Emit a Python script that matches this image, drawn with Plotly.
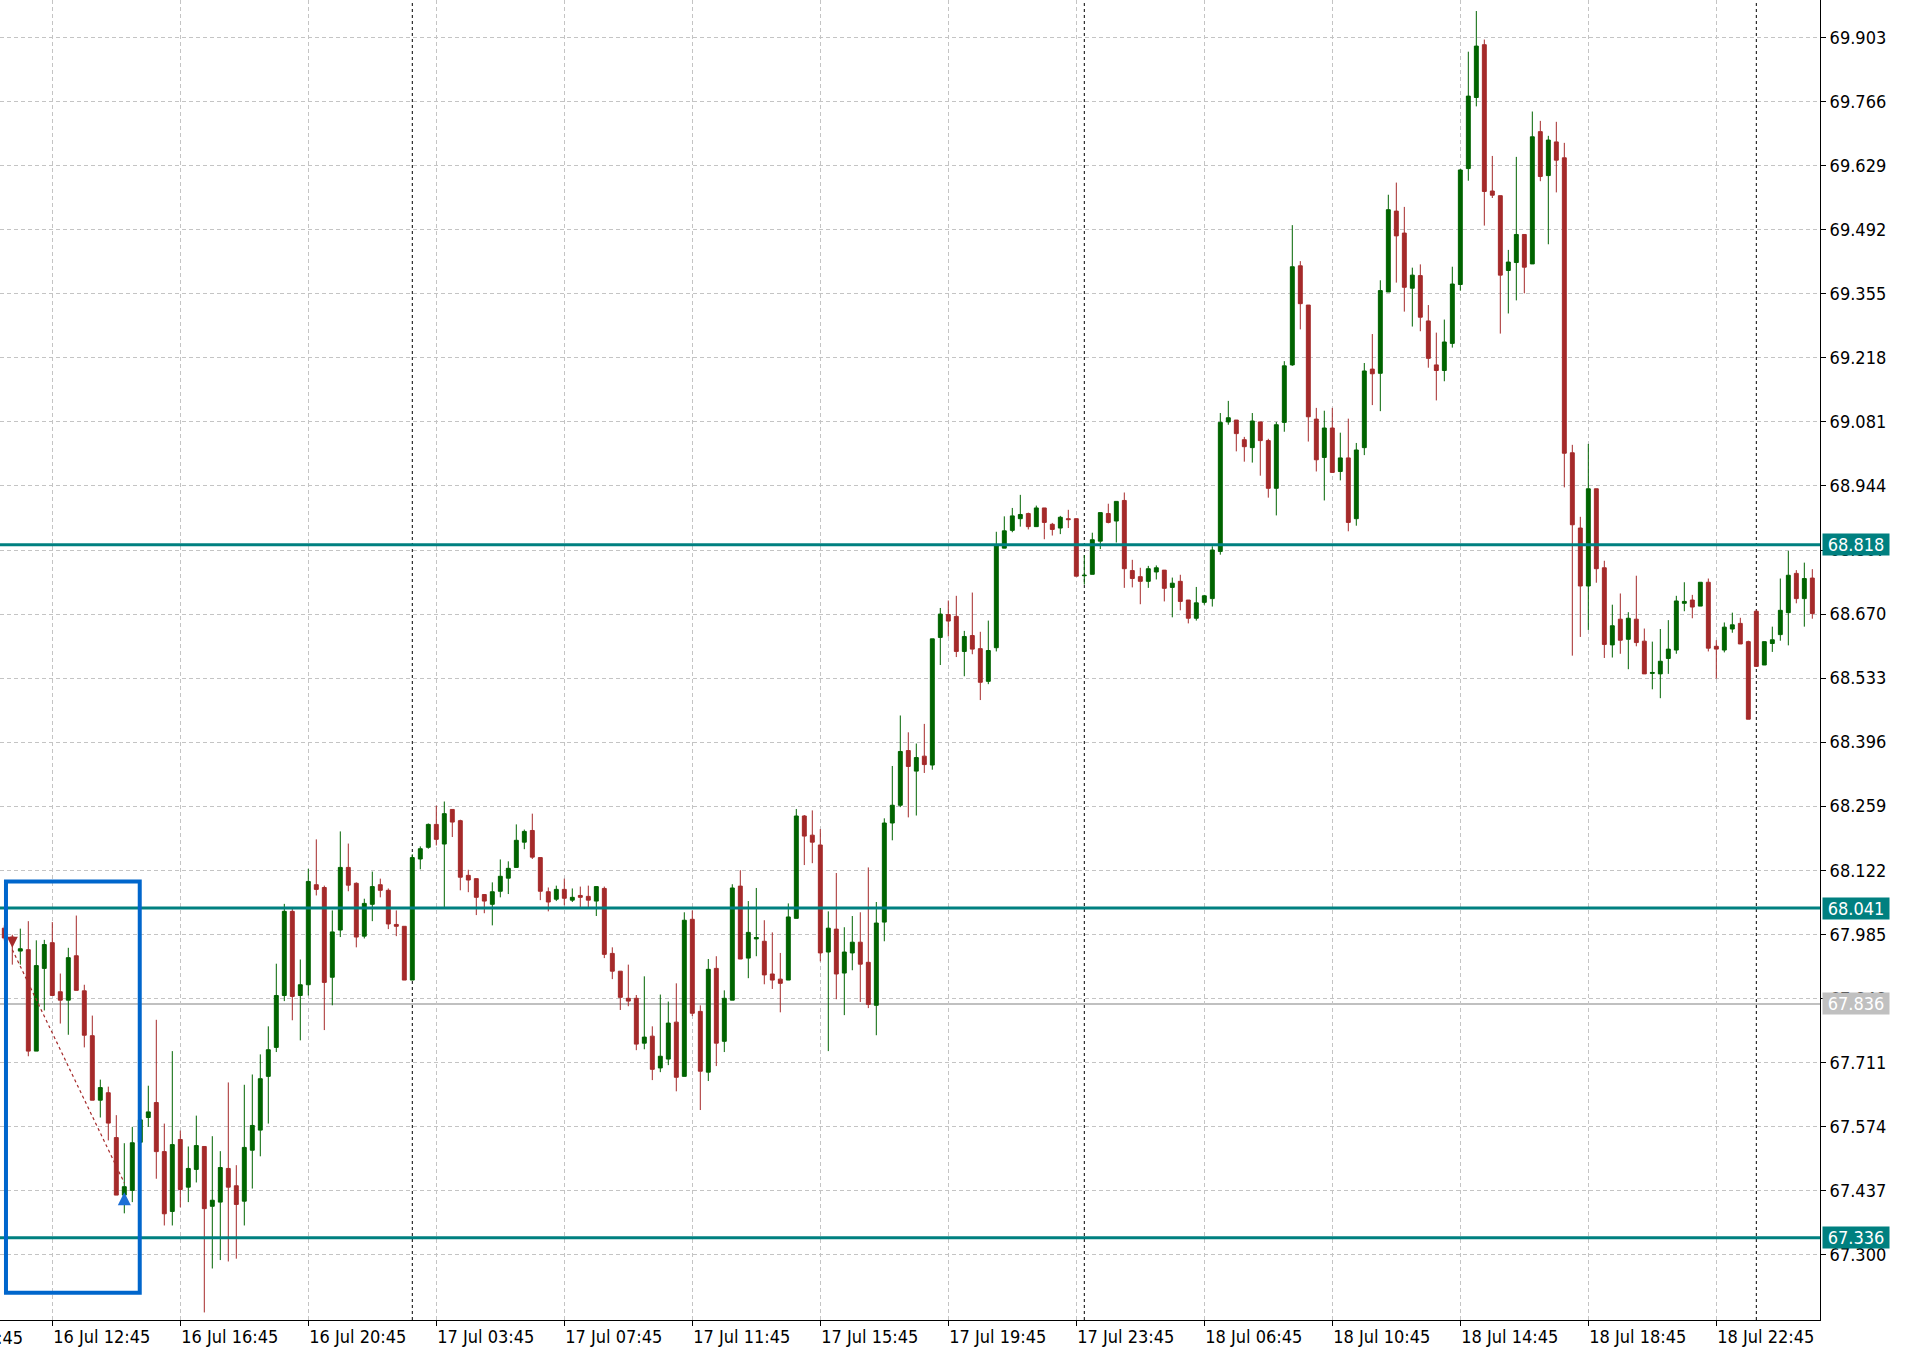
import plotly.graph_objects as go

# ---------------- data (M15 candles) ----------------
open_ = [
    67.998, 67.979, 67.949, 67.952, 67.735, 67.912, 67.967, 67.862, 67.844, 67.939,
    67.864, 67.768, 67.630, 67.646, 67.550, 67.427, 67.437, 67.540, 67.593, 67.625,
    67.520, 67.392, 67.546, 67.444, 67.482, 67.531, 67.403, 67.412, 67.484, 67.447,
    67.414, 67.523, 67.566, 67.681, 67.743, 67.854, 68.034, 67.854, 67.877, 68.091,
    68.085, 67.893, 67.994, 68.128, 68.094, 67.981, 68.049, 68.091, 68.079, 68.006,
    68.002, 67.887, 68.146, 68.171, 68.220, 68.178, 68.252, 68.228, 68.111, 68.104,
    68.070, 68.049, 68.077, 68.105, 68.128, 68.182, 68.207, 68.149, 68.076, 68.060,
    68.081, 68.058, 68.068, 68.066, 68.056, 68.083, 67.944, 67.906, 67.848, 67.848,
    67.752, 67.767, 67.699, 67.718, 67.797, 67.681, 68.017, 67.820, 67.690, 67.912,
    67.756, 67.844, 68.088, 67.934, 67.975, 67.970, 67.900, 67.889, 67.887, 68.019,
    68.238, 68.197, 68.176, 67.947, 67.996, 67.902, 67.945, 67.968, 67.925, 67.833,
    68.011, 68.223, 68.261, 68.378, 68.334, 68.366, 68.347, 68.620, 68.669, 68.665,
    68.590, 68.624, 68.596, 68.526, 68.598, 68.811, 68.849, 68.874, 68.885, 68.857,
    68.897, 68.862, 68.854, 68.874, 68.874, 68.752, 68.755, 68.826, 68.885, 68.869,
    68.913, 68.763, 68.750, 68.740, 68.760, 68.764, 68.727, 68.740, 68.700, 68.661,
    68.695, 68.703, 68.804, 69.081, 69.085, 69.043, 69.026, 69.081, 69.041, 68.939,
    69.080, 69.203, 69.415, 69.331, 69.087, 69.005, 69.068, 68.975, 69.004, 68.874,
    69.026, 69.194, 69.185, 69.359, 69.532, 69.485, 69.367, 69.394, 69.297, 69.203,
    69.191, 69.249, 69.375, 69.623, 69.775, 69.888, 69.575, 69.565, 69.405, 69.422,
    69.482, 69.419, 69.702, 69.608, 69.680, 69.646, 69.015, 68.854, 68.730, 68.938,
    68.769, 68.604, 68.659, 68.616, 68.659, 68.612, 68.543, 68.542, 68.575, 68.593,
    68.693, 68.700, 68.687, 68.738, 68.601, 68.593, 68.638, 68.650, 68.611, 68.676,
    68.561, 68.607, 68.626, 68.673, 68.757, 68.703, 68.747,
]
high = [
    68.004, 67.984, 67.997, 68.013, 67.972, 67.973, 68.011, 67.901, 67.956, 68.025,
    67.877, 67.811, 67.674, 67.659, 67.598, 67.538, 67.573, 67.596, 67.661, 67.802,
    67.580, 67.735, 67.565, 67.531, 67.597, 67.531, 67.553, 67.521, 67.668, 67.491,
    67.663, 67.685, 67.728, 67.788, 67.922, 68.050, 68.043, 67.931, 68.125, 68.188,
    68.089, 68.036, 68.205, 68.179, 68.096, 68.061, 68.119, 68.104, 68.083, 68.036,
    68.002, 68.156, 68.173, 68.222, 68.260, 68.269, 68.252, 68.230, 68.123, 68.104,
    68.070, 68.096, 68.145, 68.141, 68.220, 68.209, 68.243, 68.149, 68.085, 68.089,
    68.104, 68.083, 68.087, 68.089, 68.087, 68.087, 67.957, 67.906, 67.920, 67.855,
    67.895, 67.788, 67.856, 67.841, 67.880, 68.032, 68.036, 67.833, 67.932, 67.938,
    67.865, 68.092, 68.122, 68.056, 68.084, 68.015, 67.989, 67.945, 68.051, 68.253,
    68.240, 68.250, 68.210, 68.034, 68.116, 68.000, 68.024, 68.032, 68.128, 68.054,
    68.233, 68.345, 68.453, 68.417, 68.393, 68.435, 68.617, 68.683, 68.699, 68.709,
    68.634, 68.716, 68.632, 68.656, 68.846, 68.879, 68.897, 68.925, 68.887, 68.902,
    68.897, 68.865, 68.880, 68.893, 68.874, 68.796, 68.844, 68.887, 68.906, 68.911,
    68.930, 68.786, 68.769, 68.773, 68.774, 68.764, 68.748, 68.754, 68.700, 68.728,
    68.711, 68.815, 69.100, 69.126, 69.085, 69.049, 69.100, 69.081, 69.045, 69.081,
    69.211, 69.502, 69.425, 69.331, 69.111, 69.105, 69.111, 69.058, 69.088, 69.036,
    69.207, 69.269, 69.384, 69.567, 69.593, 69.541, 69.411, 69.418, 69.331, 69.272,
    69.300, 69.413, 69.622, 69.873, 69.960, 69.899, 69.650, 69.565, 69.449, 69.648,
    69.482, 69.745, 69.725, 69.693, 69.723, 69.678, 69.032, 68.878, 69.034, 68.938,
    68.784, 68.690, 68.714, 68.674, 68.752, 68.639, 68.611, 68.638, 68.657, 68.709,
    68.738, 68.711, 68.738, 68.746, 68.614, 68.652, 68.673, 68.662, 68.613, 68.679,
    68.611, 68.643, 68.746, 68.805, 68.764, 68.780, 68.766,
]
low = [
    67.972, 67.920, 67.920, 67.724, 67.735, 67.822, 67.854, 67.794, 67.770, 67.865,
    67.743, 67.630, 67.593, 67.544, 67.427, 67.388, 67.412, 67.517, 67.573, 67.462,
    67.362, 67.362, 67.401, 67.412, 67.454, 67.176, 67.270, 67.288, 67.285, 67.291,
    67.362, 67.441, 67.510, 67.580, 67.733, 67.842, 67.801, 67.758, 67.854, 68.068,
    67.780, 67.833, 67.979, 68.077, 67.957, 67.976, 68.013, 68.064, 67.996, 67.981,
    67.887, 67.887, 68.124, 68.168, 68.175, 68.042, 68.193, 68.079, 68.075, 68.026,
    68.030, 68.004, 68.064, 68.071, 68.128, 68.167, 68.146, 68.058, 68.034, 68.056,
    68.047, 68.054, 68.043, 68.043, 68.024, 67.934, 67.889, 67.823, 67.831, 67.737,
    67.739, 67.673, 67.690, 67.705, 67.649, 67.681, 67.810, 67.609, 67.671, 67.703,
    67.733, 67.844, 67.932, 67.891, 67.938, 67.878, 67.868, 67.818, 67.887, 68.019,
    68.133, 68.137, 67.927, 67.735, 67.846, 67.812, 67.908, 67.840, 67.827, 67.769,
    67.970, 68.186, 68.257, 68.235, 68.239, 68.330, 68.337, 68.561, 68.622, 68.578,
    68.537, 68.584, 68.486, 68.520, 68.590, 68.811, 68.845, 68.857, 68.851, 68.857,
    68.830, 68.838, 68.841, 68.854, 68.751, 68.733, 68.755, 68.809, 68.864, 68.823,
    68.726, 68.727, 68.691, 68.726, 68.744, 68.697, 68.663, 68.678, 68.650, 68.656,
    68.690, 68.686, 68.797, 69.075, 69.018, 68.996, 68.994, 68.966, 68.919, 68.881,
    69.060, 69.201, 69.279, 69.039, 68.975, 68.913, 68.973, 68.956, 68.847, 68.859,
    69.010, 69.117, 69.104, 69.359, 69.379, 69.317, 69.285, 69.275, 69.197, 69.127,
    69.168, 69.240, 69.362, 69.597, 69.756, 69.501, 69.560, 69.270, 69.313, 69.341,
    69.356, 69.419, 69.596, 69.461, 69.572, 68.941, 68.581, 68.621, 68.636, 68.737,
    68.576, 68.577, 68.585, 68.552, 68.601, 68.542, 68.509, 68.490, 68.542, 68.585,
    68.676, 68.661, 68.687, 68.590, 68.532, 68.588, 68.630, 68.606, 68.445, 68.558,
    68.561, 68.589, 68.613, 68.603, 68.693, 68.643, 68.660,
]
close = [
    67.977, 67.970, 67.954, 67.735, 67.918, 67.963, 67.854, 67.844, 67.935, 67.865,
    67.769, 67.630, 67.657, 67.581, 67.427, 67.445, 67.539, 67.588, 67.605, 67.520,
    67.387, 67.535, 67.439, 67.484, 67.533, 67.398, 67.416, 67.486, 67.444, 67.407,
    67.529, 67.576, 67.676, 67.738, 67.854, 68.034, 67.852, 67.877, 68.098, 68.081,
    67.882, 67.990, 68.128, 68.090, 67.979, 68.051, 68.087, 68.079, 68.007, 68.002,
    67.887, 68.149, 68.168, 68.220, 68.188, 68.243, 68.225, 68.107, 68.101, 68.064,
    68.056, 68.076, 68.109, 68.126, 68.186, 68.205, 68.150, 68.077, 68.054, 68.081,
    68.062, 68.064, 68.064, 68.058, 68.087, 67.942, 67.906, 67.850, 67.842, 67.750,
    67.765, 67.696, 67.724, 67.795, 67.679, 68.015, 67.816, 67.692, 67.910, 67.752,
    67.848, 68.084, 67.932, 67.989, 67.978, 67.898, 67.887, 67.880, 68.022, 68.238,
    68.195, 68.182, 67.945, 67.998, 67.900, 67.947, 67.968, 67.921, 67.835, 68.009,
    68.223, 68.261, 68.376, 68.344, 68.363, 68.348, 68.617, 68.670, 68.655, 68.590,
    68.622, 68.595, 68.524, 68.592, 68.817, 68.848, 68.880, 68.883, 68.857, 68.897,
    68.866, 68.851, 68.877, 68.872, 68.751, 68.753, 68.829, 68.887, 68.866, 68.911,
    68.767, 68.746, 68.740, 68.767, 68.769, 68.725, 68.736, 68.697, 68.661, 68.694,
    68.709, 68.807, 69.080, 69.090, 69.056, 69.028, 69.083, 69.041, 68.939, 69.075,
    69.201, 69.413, 69.334, 69.092, 69.000, 69.068, 68.973, 69.004, 68.866, 69.021,
    69.190, 69.184, 69.362, 69.535, 69.479, 69.369, 69.395, 69.305, 69.217, 69.191,
    69.252, 69.376, 69.620, 69.778, 69.885, 69.574, 69.566, 69.395, 69.423, 69.482,
    69.412, 69.691, 69.606, 69.684, 69.641, 69.014, 68.861, 68.730, 68.938, 68.767,
    68.605, 68.645, 68.614, 68.661, 68.609, 68.542, 68.545, 68.569, 68.595, 68.698,
    68.697, 68.685, 68.738, 68.597, 68.595, 68.642, 68.647, 68.606, 68.445, 68.558,
    68.611, 68.615, 68.678, 68.753, 68.703, 68.746, 68.671,
]
assert len(open_) == len(high) == len(low) == len(close)

# time axis: bar index of each label and its text
time_tick_bars = [6, 22, 38, 54, 70, 86, 102, 118, 134, 150, 166, 182, 198, 214]
time_tick_text = ["16 Jul 12:45", "16 Jul 16:45", "16 Jul 20:45", "17 Jul 03:45",
                  "17 Jul 07:45", "17 Jul 11:45", "17 Jul 15:45", "17 Jul 19:45",
                  "17 Jul 23:45", "18 Jul 06:45", "18 Jul 10:45", "18 Jul 14:45",
                  "18 Jul 18:45", "18 Jul 22:45"]
hidden_left_tick_bar = -10
hidden_left_tick_text = "16 Jul 08:45"

price_ticks = [67.300, 67.437, 67.574, 67.711, 67.848, 67.985, 68.122, 68.259,
               68.396, 68.533, 68.670, 68.807, 68.944, 69.081, 69.218, 69.355,
               69.492, 69.629, 69.766, 69.903]

level_prices = [68.818, 68.041, 67.336]     # teal horizontal levels
grey_price = 67.836                          # grey price line
day_separator_bars = [51, 135, 219]

# trade (sell entry -> exit) and highlighted box
trade_bars = [1, 15]
trade_prices = [67.952, 67.453]
entry_marker_price = 67.956
exit_marker_price = 67.433
box_bars = [0.21, 16.93]
box_prices = [67.218, 68.098]

# ---------------- styling ----------------
GREEN = "#006400"
RED = "#A52A2A"
TEAL = "#008080"
GRID = "#C4C4C4"
FONT = "Tahoma, 'DejaVu Sans Condensed', 'DejaVu Sans', sans-serif"
FS = 18

bars = list(range(len(open_)))
x_lo, x_hi = -0.5375, 226.96
y_lo, y_hi = 67.1598, 69.9836

fig = go.Figure()
fig.add_trace(go.Candlestick(
    x=bars, open=open_, high=high, low=low, close=close,
    increasing=dict(line=dict(color=GREEN, width=1), fillcolor=GREEN),
    decreasing=dict(line=dict(color=RED, width=1), fillcolor=RED),
    whiskerwidth=0, showlegend=False, hoverinfo="skip",
))

# trade connection line
fig.add_trace(go.Scatter(
    x=trade_bars, y=trade_prices, mode="lines",
    line=dict(color=RED, width=1.2, dash="dot"), showlegend=False, hoverinfo="skip",
))
fig.add_trace(go.Scatter(
    x=[trade_bars[0]], y=[entry_marker_price], mode="markers",
    marker=dict(symbol="arrow-down", size=11, color=RED), showlegend=False, hoverinfo="skip",
))
fig.add_trace(go.Scatter(
    x=[trade_bars[1]], y=[exit_marker_price], mode="markers",
    marker=dict(symbol="arrow-up", size=13, color="#1C6FD6"), showlegend=False, hoverinfo="skip",
))

shapes = []
for b in day_separator_bars:
    shapes.append(dict(type="line", xref="x", yref="paper", x0=b, x1=b, y0=0, y1=1,
                       line=dict(color="black", width=1, dash="dot"), layer="below"))
shapes.append(dict(type="line", xref="paper", yref="y", x0=0, x1=1, y0=grey_price, y1=grey_price,
                   line=dict(color="#C0C0C0", width=2), layer="below"))
for p in level_prices:
    shapes.append(dict(type="line", xref="paper", yref="y", x0=0, x1=1, y0=p, y1=p,
                       line=dict(color=TEAL, width=3), layer="above"))
shapes.append(dict(type="rect", xref="x", yref="y", x0=box_bars[0], x1=box_bars[1],
                   y0=box_prices[0], y1=box_prices[1],
                   line=dict(color="#0066CC", width=4), fillcolor="rgba(0,0,0,0)", layer="above"))

annotations = []
for p in level_prices:
    annotations.append(dict(xref="paper", yref="y", x=1, y=p, xanchor="left", yanchor="middle",
                            xshift=2, text=f"{p:.3f}", showarrow=False, bgcolor=TEAL,
                            width=66, height=21, borderpad=0,
                            font=dict(family=FONT, size=FS, color="white")))
annotations.append(dict(xref="paper", yref="y", x=1, y=grey_price, xanchor="left", yanchor="middle",
                        xshift=2, text=f"{grey_price:.3f}", showarrow=False, bgcolor="#C0C0C0",
                        width=66, height=21, borderpad=0,
                        font=dict(family=FONT, size=FS, color="white")))
annotations.append(dict(xref="paper", yref="paper",
                        x=(hidden_left_tick_bar - x_lo) / (x_hi - x_lo), y=0,
                        xanchor="left", yanchor="top", yshift=-5,
                        text=hidden_left_tick_text, showarrow=False,
                        font=dict(family=FONT, size=FS, color="black")))

fig.update_layout(
    width=1906, height=1352,
    margin=dict(l=0, r=86, t=0, b=32),
    paper_bgcolor="white", plot_bgcolor="white",
    boxgap=0.3, boxgroupgap=0.3,
    shapes=shapes, annotations=annotations,
    font=dict(family=FONT, size=FS, color="black"),
)
fig.update_xaxes(
    range=[x_lo, x_hi], rangeslider=dict(visible=False),
    tickvals=time_tick_bars, ticktext=time_tick_text,
    ticklabelposition="outside right",
    showline=True, linecolor="black", linewidth=1,
    ticks="outside", ticklen=5, tickcolor="black",
    showgrid=True, gridcolor=GRID, griddash="4px,3px", gridwidth=1,
    zeroline=False, tickfont=dict(family=FONT, size=FS, color="black"),
)
fig.update_yaxes(
    range=[y_lo, y_hi], side="right",
    tickvals=price_ticks, ticktext=[f"{v:.3f}" for v in price_ticks],
    showline=True, linecolor="black", linewidth=1,
    ticks="outside", ticklen=5, tickcolor="black",
    showgrid=True, gridcolor=GRID, griddash="4px,3px", gridwidth=1,
    zeroline=False, tickfont=dict(family=FONT, size=FS, color="black"),
)

fig.write_html("out.html")
